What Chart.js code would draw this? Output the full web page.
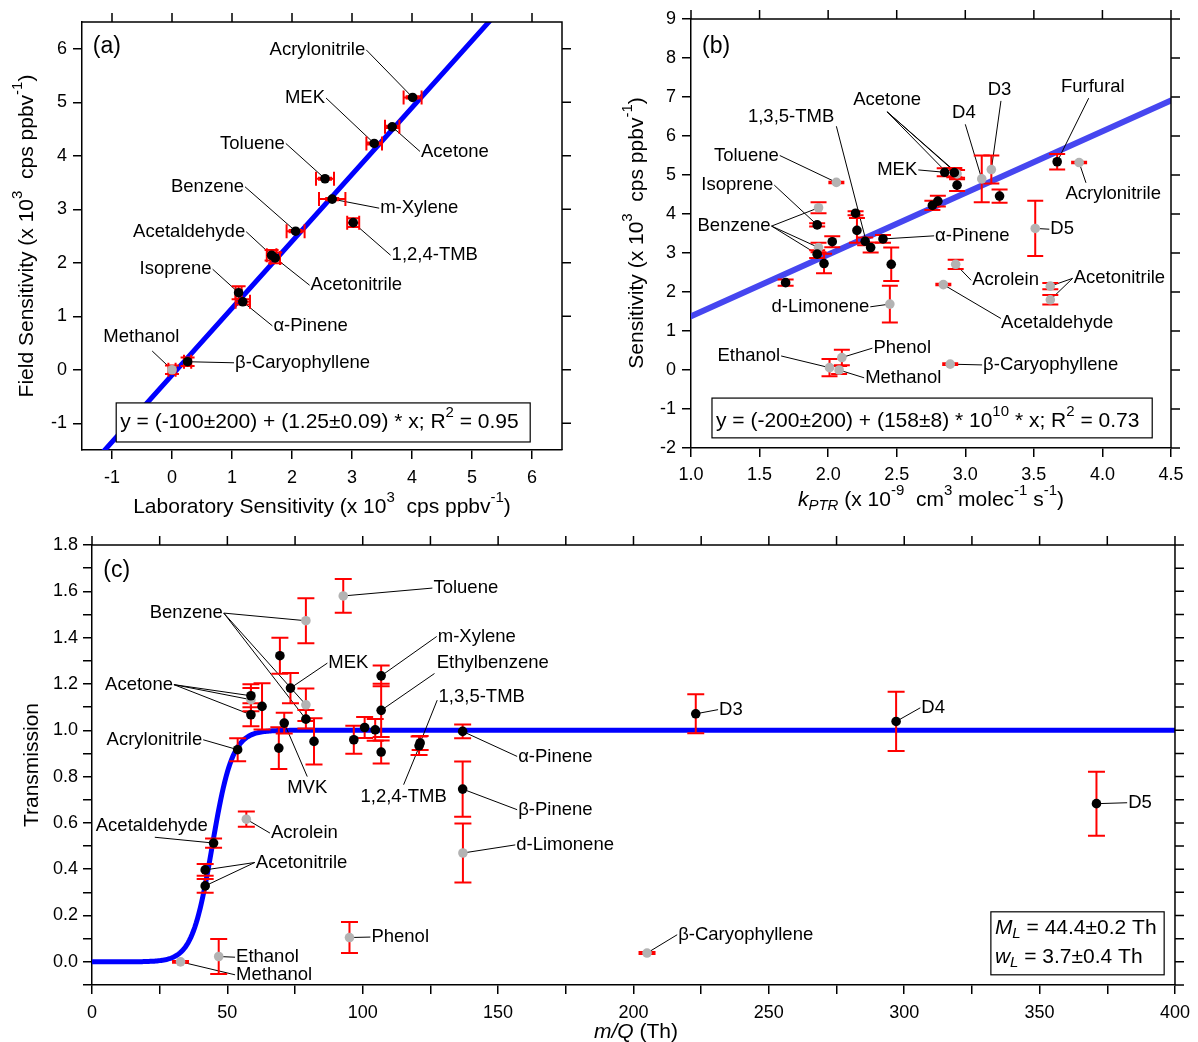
<!DOCTYPE html>
<html>
<head>
<meta charset="utf-8">
<script src="https://cdn.jsdelivr.net/npm/chart.js@4.4.1/dist/chart.umd.min.js"></script>
<style>
body { margin:0; background:#fff; width:1198px; height:1042px; position:relative; overflow:hidden; }
canvas { position:absolute; }
</style>
</head>
<body>
<canvas id="chartA" width="590" height="520" style="left:0px;top:0px"></canvas>
<canvas id="chartB" width="600" height="520" style="left:598px;top:0px"></canvas>
<canvas id="chartC" width="1198" height="522" style="left:0px;top:520px"></canvas>
<script>
Chart.defaults.font.family = "'Liberation Sans', Arial, sans-serif";
Chart.defaults.font.size = 18;
Chart.defaults.color = '#000';
Chart.defaults.animation = false;

const FONT = "'Liberation Sans', Arial, sans-serif";

////////////////////////////// panel (a) data : lab vs field sensitivity
const aLab      = [4.01, 3.67, 3.37, 2.55, 2.67, 2.06, 3.02, 1.66, 1.72, 1.11, 1.18, 0.26];
const aField    = [5.09, 4.54, 4.23, 3.57, 3.19, 2.59, 2.75, 2.14, 2.09, 1.44, 1.27, 0.15];
const aLabErr   = [0.15, 0.12, 0.13, 0.15, 0.22, 0.15, 0.10, 0.08, 0.08, 0.05, 0.12, 0.06];
const aFieldErr = [0.02, 0.02, 0.02, 0.02, 0.02, 0.02, 0.08, 0.10, 0.10, 0.12, 0.05, 0.08];
const aGrayLab = [0.0], aGrayField = [0.0], aGrayLabErr = [0.06], aGrayFieldErr = [0.08];
const aFit = [-0.1, 1.25];           // intercept, slope (x10^3) from the fit box
const aTicks = [-1, 0, 1, 2, 3, 4, 5, 6];

////////////////////////////// panel (b) data : kPTR vs sensitivity
const bBlackK   = [3.67, 3.25, 2.85, 2.92, 2.94, 2.80, 2.76, 1.92, 2.20, 2.21, 2.03, 1.92, 1.97, 1.69, 2.27, 2.31, 2.40, 2.46];
const bBlackS   = [5.34, 4.46, 5.07, 5.06, 4.74, 4.33, 4.22, 3.72, 4.02, 3.58, 3.29, 2.97, 2.73, 2.24, 3.30, 3.14, 3.36, 2.71];
const bBlackErr = [0.20, 0.17, 0.10, 0.12, 0.15, 0.14, 0.12, 0.04, 0.05, 0.32, 0.14, 0.10, 0.25, 0.08, 0.10, 0.13, 0.10, 0.43];
const bGrayK    = [3.83, 3.19, 3.12, 2.94, 2.06, 1.93, 1.93, 2.45, 2.93, 2.84, 3.51, 3.62, 3.62, 2.89, 2.10, 2.01, 2.08];
const bGrayS    = [5.32, 5.14, 4.90, 5.03, 4.81, 4.16, 3.14, 1.69, 2.71, 2.19, 3.63, 2.15, 1.80, 0.15, 0.32, 0.06, 0.00];
const bGrayErr  = [0.02, 0.36, 0.60, 0.10, 0.02, 0.14, 0.12, 0.47, 0.12, 0.02, 0.71, 0.08, 0.12, 0.02, 0.20, 0.22, 0.10];
const bFit = [-0.2, 1.58];
const bXTicks = [1.0, 1.5, 2.0, 2.5, 3.0, 3.5, 4.0, 4.5];
const bYTicks = [-2, -1, 0, 1, 2, 3, 4, 5, 6, 7, 8, 9];

////////////////////////////// panel (c) data : m/Q vs transmission
const cBlackM   = [53.8, 58.7, 58.7, 62.8, 69.4, 69.0, 71.0, 73.3, 79.0, 82.0, 96.7, 100.7, 104.6, 106.8, 106.8, 106.8, 120.8, 121.2, 136.9, 136.9, 44.9, 41.8, 41.8, 223, 297, 371];
const cBlackT   = [0.916, 1.149, 1.067, 1.103, 1.322, 0.923, 1.031, 1.182, 1.048, 0.952, 0.959, 1.012, 1.002, 1.235, 1.086, 0.906, 0.933, 0.945, 0.995, 0.746, 0.513, 0.397, 0.328, 1.071, 1.038, 0.683];
const cBlackErr = [0.05, 0.05, 0.05, 0.10, 0.078, 0.09, 0.045, 0.065, 0.04, 0.10, 0.06, 0.045, 0.047, 0.045, 0.115, 0.05, 0.04, 0.03, 0.03, 0.119, 0.02, 0.025, 0.03, 0.084, 0.128, 0.138];
const cGrayM    = [92.8, 79.0, 79.0, 58.7, 57.0, 137.0, 95.1, 46.8, 32.7, 205.0];
const cGrayT    = [1.580, 1.473, 1.110, 1.132, 0.616, 0.470, 0.105, 0.023, 0.000, 0.038];
const cGrayErr  = [0.073, 0.097, 0.07, 0.05, 0.033, 0.127, 0.067, 0.076, 0.004, 0.004];
const cML = 44.4, cWL = 3.7;          // fitted transmission curve parameters (Th)
const cXTicks = [0, 25, 50, 75, 100, 125, 150, 175, 200, 225, 250, 275, 300, 325, 350, 375, 400];
const cYTicks = [-0.1, 0, 0.1, 0.2, 0.3, 0.4, 0.5, 0.6, 0.7, 0.8, 0.9, 1.0, 1.1, 1.2, 1.3, 1.4, 1.5, 1.6, 1.7, 1.8];

////////////////////////////// labels with leader lines
const aNotes = [
  { t: 'Acrylonitrile', x: 3.22, y: 5.98, al: 'right', to: [[4.01, 5.09]] },
  { t: 'MEK', x: 2.55, y: 5.08, al: 'right', to: [[3.37, 4.23]] },
  { t: 'Toluene', x: 1.88, y: 4.23, al: 'right', to: [[2.55, 3.57]] },
  { t: 'Benzene', x: 1.20, y: 3.42, al: 'right', to: [[2.06, 2.59]] },
  { t: 'Acetaldehyde', x: 1.22, y: 2.58, al: 'right', to: [[1.66, 2.14]] },
  { t: 'Acetone', x: 4.15, y: 4.08, al: 'left', to: [[3.67, 4.54]] },
  { t: 'm-Xylene', x: 3.47, y: 3.02, al: 'left', to: [[2.67, 3.19]] },
  { t: '1,2,4-TMB', x: 3.66, y: 2.14, al: 'left', to: [[3.02, 2.75]] },
  { t: 'Acetonitrile', x: 2.31, y: 1.58, al: 'left', to: [[1.72, 2.09]] },
  { t: 'Isoprene', x: 0.66, y: 1.88, al: 'right', to: [[1.11, 1.44]] },
  { t: 'α-Pinene', x: 1.69, y: 0.82, al: 'left', to: [[1.18, 1.27]] },
  { t: 'Methanol', x: -0.51, y: 0.62, al: 'center', s: [-0.33, 0.35], to: [[0, 0]] },
  { t: 'β-Caryophyllene', x: 1.05, y: 0.13, al: 'left', to: [[0.26, 0.15]] }
];
const bNotes = [
  { t: 'Acetone', x: 2.43, y: 6.92, al: 'center', s: [2.43, 6.62], to: [[2.86, 5.08], [2.93, 5.08], [2.94, 5.03]] },
  { t: 'D4', x: 2.99, y: 6.58, al: 'center', s: [3.00, 6.30], to: [[3.12, 4.90]] },
  { t: 'D3', x: 3.25, y: 7.18, al: 'center', s: [3.26, 6.90], to: [[3.19, 5.14]] },
  { t: 'Furfural', x: 3.93, y: 7.25, al: 'center', s: [3.90, 6.97], to: [[3.67, 5.34]] },
  { t: '1,3,5-TMB', x: 1.73, y: 6.50, al: 'center', s: [2.06, 6.25], to: [[2.28, 3.26]] },
  { t: 'Toluene', x: 1.64, y: 5.50, al: 'right', to: [[2.06, 4.81]] },
  { t: 'MEK', x: 2.65, y: 5.13, al: 'right', to: [[2.85, 5.07]] },
  { t: 'Isoprene', x: 1.60, y: 4.74, al: 'right', to: [[1.92, 3.72]] },
  { t: 'Benzene', x: 1.58, y: 3.69, al: 'right', to: [[1.93, 4.16], [1.93, 3.14], [1.92, 2.97]] },
  { t: 'α-Pinene', x: 2.78, y: 3.44, al: 'left', to: [[2.40, 3.36]] },
  { t: 'D5', x: 3.62, y: 3.61, al: 'left', to: [[3.51, 3.63]] },
  { t: 'Acrylonitrile', x: 3.73, y: 4.51, al: 'left', s: [3.88, 4.80], to: [[3.83, 5.32]] },
  { t: 'Acrolein', x: 3.05, y: 2.30, al: 'left', to: [[2.93, 2.71]] },
  { t: 'Acetaldehyde', x: 3.67, y: 1.21, al: 'center', s: [3.26, 1.32], to: [[2.84, 2.19]] },
  { t: 'Acetonitrile', x: 3.79, y: 2.35, al: 'left', to: [[3.62, 2.15], [3.62, 1.80]] },
  { t: 'd-Limonene', x: 2.30, y: 1.62, al: 'right', to: [[2.45, 1.69]] },
  { t: 'Ethanol', x: 1.65, y: 0.36, al: 'right', to: [[2.01, 0.06]] },
  { t: 'Phenol', x: 2.33, y: 0.56, al: 'left', to: [[2.10, 0.32]] },
  { t: 'Methanol', x: 2.27, y: -0.20, al: 'left', to: [[2.08, 0.0]] },
  { t: 'β-Caryophyllene', x: 3.13, y: 0.13, al: 'left', to: [[2.89, 0.15]] }
];
const cNotes = [
  { t: 'Toluene', x: 126.1, y: 1.614, al: 'left', to: [[92.8, 1.58]] },
  { t: 'Benzene', x: 48.3, y: 1.506, al: 'right', to: [[79, 1.473], [79, 1.11], [79, 1.048]] },
  { t: 'MEK', x: 87.3, y: 1.29, al: 'left', to: [[73.3, 1.182]] },
  { t: 'm-Xylene', x: 127.7, y: 1.405, al: 'left', to: [[106.8, 1.235]] },
  { t: 'Ethylbenzene', x: 127.3, y: 1.29, al: 'left', s: [126.5, 1.245], to: [[106.8, 1.086]] },
  { t: '1,3,5-TMB', x: 128.0, y: 1.146, al: 'left', s: [127.5, 1.13], to: [[121, 0.94]] },
  { t: 'Acetone', x: 29.9, y: 1.197, al: 'right', to: [[58.7, 1.149], [58.7, 1.132], [58.7, 1.067]] },
  { t: 'Acrylonitrile', x: 40.7, y: 0.959, al: 'right', to: [[53.8, 0.916]] },
  { t: 'MVK', x: 79.5, y: 0.75, al: 'center', s: [79.5, 0.80], to: [[71, 1.031]] },
  { t: '1,2,4-TMB', x: 115.1, y: 0.714, al: 'center', s: [115.1, 0.765], to: [[121, 0.933]] },
  { t: 'α-Pinene', x: 157.4, y: 0.887, al: 'left', to: [[136.9, 0.995]] },
  { t: 'β-Pinene', x: 157.4, y: 0.657, al: 'left', to: [[136.9, 0.746]] },
  { t: 'Acetaldehyde', x: 42.8, y: 0.588, al: 'right', s: [23.2, 0.538], to: [[44.9, 0.513]] },
  { t: 'Acrolein', x: 66.1, y: 0.556, al: 'left', to: [[57, 0.616]] },
  { t: 'd-Limonene', x: 156.7, y: 0.505, al: 'left', to: [[137, 0.470]] },
  { t: 'Acetonitrile', x: 60.5, y: 0.429, al: 'left', to: [[41.8, 0.397], [41.8, 0.328]] },
  { t: 'Phenol', x: 103.2, y: 0.107, al: 'left', to: [[95.1, 0.105]] },
  { t: 'Ethanol', x: 53.2, y: 0.020, al: 'left', to: [[46.8, 0.023]] },
  { t: 'Methanol', x: 53.2, y: -0.056, al: 'left', to: [[32.7, 0.0]] },
  { t: 'D3', x: 231.6, y: 1.089, al: 'left', to: [[223, 1.071]] },
  { t: 'D4', x: 306.3, y: 1.097, al: 'left', to: [[297, 1.038]] },
  { t: 'D5', x: 382.7, y: 0.687, al: 'left', to: [[371, 0.683]] },
  { t: 'β-Caryophyllene', x: 216.5, y: 0.117, al: 'left', to: [[205, 0.038]] }
];

////////////////////////////// helpers
function pts(xs, ys) { return xs.map((v, i) => ({ x: v, y: ys[i] })); }

// rich text: segs = [[text, flags]] flags: 'i' italic, '^' superscript, '_' subscript
function segFont(f, size) {
  const small = f.includes('^') || f.includes('_');
  return (f.includes('i') ? 'italic ' : '') + (small ? Math.round(size * 0.7) : size) + 'px ' + FONT;
}
function drawRich(ctx, segs, x, y, align, size, rot) {
  ctx.save();
  ctx.translate(x, y);
  if (rot) ctx.rotate(-Math.PI / 2);
  ctx.textBaseline = 'middle';
  ctx.textAlign = 'left';
  ctx.fillStyle = '#000';
  let w = 0;
  segs.forEach(s => { ctx.font = segFont(s[1] || '', size); w += ctx.measureText(s[0]).width; });
  let cx = align === 'center' ? -w / 2 : (align === 'right' ? -w : 0);
  segs.forEach(s => {
    const f = s[1] || '';
    ctx.font = segFont(f, size);
    let dy = 0;
    if (f.includes('^')) dy = -size * 0.45;
    if (f.includes('_')) dy = size * 0.3;
    ctx.fillText(s[0], cx, dy);
    cx += ctx.measureText(s[0]).width;
  });
  ctx.restore();
}

function makeAxis(ticks, min, max, fmt, size, isX, pad) {
  return {
    type: 'linear', min: min, max: max,
    afterBuildTicks: s => { s.ticks = ticks.map(v => ({ value: v })); },
    afterFit: s => { if (isX) s.height = size; else s.width = size; },
    ticks: { autoSkip: false, maxRotation: 0, color: '#000', font: { size: 18 }, padding: pad, callback: fmt },
    grid: { drawOnChartArea: false, drawTicks: true, tickLength: 9, color: '#000', lineWidth: 1.5 },
    border: { display: true, color: '#000', width: 1.5 }
  };
}

////////////////////////////// plugin: error bars, leader lines, frame, labels, boxes, titles
const panelPlugin = {
  id: 'panel',
  afterDatasetDraw(chart, args, o) {
    if (args.index !== 0) return;
    const ctx = chart.ctx, x = chart.scales.x, y = chart.scales.y;
    ctx.save();
    // leader lines go under the markers
    ctx.strokeStyle = '#000';
    ctx.lineWidth = 1;
    o.notes.forEach(n => {
      const lx = x.getPixelForValue(n.x), ly = y.getPixelForValue(n.y);
      let sx = lx + (n.al === 'left' ? -1 : n.al === 'right' ? 1 : 0), sy = ly;
      if (n.s) { sx = x.getPixelForValue(n.s[0]); sy = y.getPixelForValue(n.s[1]); }
      n.to.forEach(t => {
        ctx.beginPath();
        ctx.moveTo(sx, sy);
        ctx.lineTo(x.getPixelForValue(t[0]), y.getPixelForValue(t[1]));
        ctx.stroke();
      });
    });
    // red error bars
    ctx.strokeStyle = '#ff0000';
    ctx.lineWidth = 2;
    const cap = o.cap;
    chart.data.datasets.forEach(ds => {
      if (!ds.ey && !ds.ex) return;
      ds.data.forEach((p, i) => {
        const px = x.getPixelForValue(p.x), py = y.getPixelForValue(p.y);
        ctx.beginPath();
        if (ds.ey) {
          const t = y.getPixelForValue(p.y + ds.ey[i]), b = y.getPixelForValue(p.y - ds.ey[i]);
          ctx.moveTo(px, t); ctx.lineTo(px, b);
          ctx.moveTo(px - cap, t); ctx.lineTo(px + cap, t);
          ctx.moveTo(px - cap, b); ctx.lineTo(px + cap, b);
        }
        if (ds.ex) {
          const l = x.getPixelForValue(p.x - ds.ex[i]), r = x.getPixelForValue(p.x + ds.ex[i]);
          ctx.moveTo(l, py); ctx.lineTo(r, py);
          ctx.moveTo(l, py - cap); ctx.lineTo(l, py + cap);
          ctx.moveTo(r, py - cap); ctx.lineTo(r, py + cap);
        }
        ctx.stroke();
      });
    });
    ctx.restore();
  },
  afterDatasetsDraw(chart, args, o) {
    const ctx = chart.ctx, x = chart.scales.x, y = chart.scales.y, a = chart.chartArea;
    ctx.save();
    // top and right frame with outward ticks
    ctx.strokeStyle = '#000';
    ctx.lineWidth = 1.5;
    ctx.beginPath();
    ctx.moveTo(a.left, a.top); ctx.lineTo(a.right, a.top); ctx.lineTo(a.right, a.bottom);
    x.ticks.forEach(t => { const px = x.getPixelForValue(t.value); ctx.moveTo(px, a.top); ctx.lineTo(px, a.top - 9); });
    y.ticks.forEach(t => { const py = y.getPixelForValue(t.value); ctx.moveTo(a.right, py); ctx.lineTo(a.right + 9, py); });
    ctx.stroke();

    // compound names
    ctx.font = '18.5px ' + FONT;
    ctx.fillStyle = '#000';
    ctx.textBaseline = 'middle';
    o.notes.forEach(n => {
      ctx.textAlign = n.al;
      ctx.fillText(n.t, x.getPixelForValue(n.x), y.getPixelForValue(n.y));
    });

    // panel tag
    ctx.font = '23px ' + FONT;
    ctx.textAlign = 'left';
    ctx.fillText(o.tag[0], x.getPixelForValue(o.tag[1]), y.getPixelForValue(o.tag[2]));

    // fit result box
    const b = o.box;
    const bx0 = x.getPixelForValue(b.x0), bx1 = x.getPixelForValue(b.x1);
    const by0 = y.getPixelForValue(b.y0), by1 = y.getPixelForValue(b.y1);
    ctx.fillStyle = '#fff';
    ctx.fillRect(bx0, by0, bx1 - bx0, by1 - by0);
    ctx.strokeStyle = '#000';
    ctx.lineWidth = 1.2;
    ctx.strokeRect(bx0, by0, bx1 - bx0, by1 - by0);
    b.lines.forEach(l => drawRich(ctx, l.segs, bx0 + 4, y.getPixelForValue(l.y), 'left', 21, false));

    // axis titles
    o.titles.forEach(t => drawRich(ctx, t.segs, t.x, t.y, 'center', 21, t.rot));
    ctx.restore();
  }
};

function buildChart(id, datasets, xAxis, yAxis, pad, panelOpts) {
  return new Chart(document.getElementById(id), {
    type: 'scatter',
    data: { datasets: datasets },
    options: {
      responsive: false,
      devicePixelRatio: 1,
      layout: { padding: pad },
      scales: { x: xAxis, y: yAxis },
      plugins: { legend: { display: false }, tooltip: { enabled: false }, panel: panelOpts }
    },
    plugins: [panelPlugin]
  });
}

function dotSet(data, color, ex, ey) {
  return { type: 'scatter', data: data, ex: ex, ey: ey, order: color === '#000000' ? 0 : 1,
    backgroundColor: color, borderColor: color, pointRadius: 4.8, pointBorderWidth: 0 };
}
function fitSet(data, color, width) {
  return { type: 'line', data: data, order: 2, borderColor: color, borderWidth: width,
    pointRadius: 0, tension: 0, fill: false, borderCapStyle: 'round' };
}

////////////////////////////// panel (a)
const aLine = [-1.5, 6.5].map(v => ({ x: v, y: aFit[0] + aFit[1] * v }));
buildChart('chartA', [
  fitSet(aLine, '#0000ff', 5),
  dotSet(pts(aGrayLab, aGrayField), '#b3b3b3', aGrayLabErr, aGrayFieldErr),
  dotSet(pts(aLab, aField), '#000000', aLabErr, aFieldErr)
],
  makeAxis(aTicks, -1.5, 6.5, v => String(v), 70, true, 8),
  makeAxis(aTicks, -1.5, 6.5, v => String(v), 82, false, 6),
  { left: 0, top: 22, right: 28, bottom: 0 },
  { cap: 7, notes: aNotes, tag: ['(a)', -1.32, 6.04],
    box: { x0: -0.93, x1: 5.97, y0: -0.62, y1: -1.35,
      lines: [{ y: -0.98, segs: [['y = (-100±200) + (1.25±0.09) * x; R'], ['2', '^'], [' = 0.95']] }] },
    titles: [
      { x: 322, y: 507, rot: false, segs: [['Laboratory Sensitivity (x 10'], ['3', '^'], ['  cps ppbv'], ['-1', '^'], [')']] },
      { x: 27, y: 236, rot: true, segs: [['Field Sensitivity (x 10'], ['3', '^'], ['  cps ppbv'], ['-1', '^'], [')']] }
    ] });

////////////////////////////// panel (b)
const bLine = [1.0, 4.5].map(v => ({ x: v, y: bFit[0] + bFit[1] * v }));
buildChart('chartB', [
  fitSet(bLine, '#4646f0', 6),
  dotSet(pts(bGrayK, bGrayS), '#b3b3b3', null, bGrayErr),
  dotSet(pts(bBlackK, bBlackS), '#000000', null, bBlackErr)
],
  makeAxis(bXTicks, 1.0, 4.5, v => v.toFixed(1), 72, true, 7),
  makeAxis(bYTicks, -2, 9, v => String(v), 93, false, 6),
  { left: 0, top: 19, right: 27, bottom: 0 },
  { cap: 8, notes: bNotes, tag: ['(b)', 1.08, 8.29],
    box: { x0: 1.153, x1: 4.363, y0: -0.72, y1: -1.74,
      lines: [{ y: -1.32, segs: [['y = (-200±200) + (158±8) * 10'], ['10', '^'], [' * x; R'], ['2', '^'], [' = 0.73']] }] },
    titles: [
      { x: 333, y: 500, rot: false, segs: [['k', 'i'], ['PTR', 'i_'], [' (x 10'], ['-9', '^'], ['  cm'], ['3', '^'], [' molec'], ['-1', '^'], [' s'], ['-1', '^'], [')']] },
      { x: 39, y: 233, rot: true, segs: [['Sensitivity (x 10'], ['3', '^'], ['  cps ppbv'], ['-1', '^'], [')']] }
    ] });

////////////////////////////// panel (c)
const cCurve = [];
for (let m = 0; m <= 120; m += 0.5) cCurve.push({ x: m, y: 1 / (1 + Math.exp(-(m - cML) / cWL)) });
cCurve.push({ x: 400, y: 1 });
buildChart('chartC', [
  fitSet(cCurve, '#0000ff', 5),
  dotSet(pts(cGrayM, cGrayT), '#b3b3b3', null, cGrayErr),
  dotSet(pts(cBlackM, cBlackT), '#000000', null, cBlackErr)
],
  makeAxis(cXTicks, 0, 400, v => (v % 50 === 0 ? String(v) : ''), 57, true, 8),
  makeAxis(cYTicks, -0.1, 1.8, v => (Math.round(v * 10) % 2 === 0 ? v.toFixed(1) : ''), 92, false, 5),
  { left: 0, top: 25, right: 18, bottom: 0 },
  { cap: 8.5, notes: cNotes, tag: ['(c)', 4.2, 1.69],
    box: { x0: 332, x1: 396, y0: 0.216, y1: -0.056,
      lines: [
        { y: 0.147, segs: [['M', 'i'], ['L', 'i_'], [' = 44.4±0.2 Th']] },
        { y: 0.022, segs: [['w', 'i'], ['L', 'i_'], [' = 3.7±0.4 Th']] }
      ] },
    titles: [
      { x: 636, y: 512, rot: false, segs: [['m/Q', 'i'], [' (Th)']] },
      { x: 32, y: 245, rot: true, segs: [['Transmission']] }
    ] });
</script>
</body>
</html>
